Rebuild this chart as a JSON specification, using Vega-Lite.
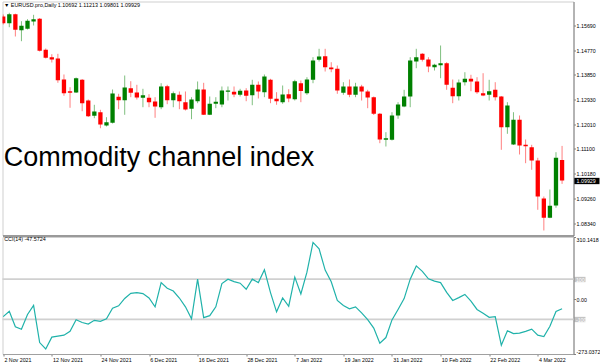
{
  "$schema": "https://vega.github.io/schema/vega-lite/v6.json",
  "padding": {"left": 0.5, "top": 0.5, "right": 0, "bottom": 0},
  "background": "#ffffff",
  "bounds": "flush",
  "spacing": 1.5,
  "config": {
    "font": "Liberation Sans",
    "view": {"stroke": "#cfcfcf", "strokeWidth": 1},
    "axis": {"labelFont": "Liberation Sans", "labelFontSize": 5.3, "labelColor": "#000000", "grid": false, "title": null, "labelOverlap": false, "labelSeparation": -20, "labelBound": false}
  },
  "data": {"values": [
    {"d": "2 Nov 2021", "o": 1.16024, "h": 1.16099, "l": 1.15727, "c": 1.15775, "cci": -87},
    {"d": "3 Nov 2021", "o": 1.15775, "h": 1.16162, "l": 1.15626, "c": 1.16110, "cci": -60},
    {"d": "4 Nov 2021", "o": 1.16110, "h": 1.16130, "l": 1.15281, "c": 1.15530, "cci": -137},
    {"d": "5 Nov 2021", "o": 1.15515, "h": 1.15849, "l": 1.15106, "c": 1.15678, "cci": -150},
    {"d": "8 Nov 2021", "o": 1.15567, "h": 1.15924, "l": 1.15541, "c": 1.15864, "cci": -76},
    {"d": "9 Nov 2021", "o": 1.15838, "h": 1.16087, "l": 1.15690, "c": 1.15924, "cci": -31},
    {"d": "10 Nov 2021", "o": 1.15939, "h": 1.15968, "l": 1.14723, "c": 1.14749, "cci": -216},
    {"d": "11 Nov 2021", "o": 1.14786, "h": 1.14834, "l": 1.14463, "c": 1.14489, "cci": -248},
    {"d": "12 Nov 2021", "o": 1.14511, "h": 1.14623, "l": 1.14314, "c": 1.14426, "cci": -189},
    {"d": "15 Nov 2021", "o": 1.14463, "h": 1.14637, "l": 1.13559, "c": 1.13656, "cci": -184},
    {"d": "16 Nov 2021", "o": 1.13682, "h": 1.13868, "l": 1.13076, "c": 1.13173, "cci": -179},
    {"d": "17 Nov 2021", "o": 1.13247, "h": 1.13396, "l": 1.12630, "c": 1.13188, "cci": -160},
    {"d": "18 Nov 2021", "o": 1.13199, "h": 1.13756, "l": 1.13180, "c": 1.13730, "cci": -102},
    {"d": "19 Nov 2021", "o": 1.13671, "h": 1.13700, "l": 1.12503, "c": 1.12801, "cci": -116},
    {"d": "22 Nov 2021", "o": 1.12901, "h": 1.12939, "l": 1.12288, "c": 1.12318, "cci": -124},
    {"d": "23 Nov 2021", "o": 1.12332, "h": 1.12741, "l": 1.12243, "c": 1.12492, "cci": -105},
    {"d": "24 Nov 2021", "o": 1.12466, "h": 1.12555, "l": 1.11871, "c": 1.12009, "cci": -110},
    {"d": "25 Nov 2021", "o": 1.11972, "h": 1.12280, "l": 1.11935, "c": 1.12094, "cci": -98},
    {"d": "26 Nov 2021", "o": 1.12072, "h": 1.13310, "l": 1.12046, "c": 1.13161, "cci": -45},
    {"d": "29 Nov 2021", "o": 1.13039, "h": 1.13150, "l": 1.12578, "c": 1.12912, "cci": -33},
    {"d": "30 Nov 2021", "o": 1.12912, "h": 1.13831, "l": 1.12370, "c": 1.13385, "cci": 4},
    {"d": "1 Dec 2021", "o": 1.13359, "h": 1.13619, "l": 1.13024, "c": 1.13188, "cci": 29},
    {"d": "2 Dec 2021", "o": 1.13199, "h": 1.13485, "l": 1.12938, "c": 1.13013, "cci": 33},
    {"d": "3 Dec 2021", "o": 1.13002, "h": 1.13336, "l": 1.12652, "c": 1.13098, "cci": 28},
    {"d": "6 Dec 2021", "o": 1.13002, "h": 1.13135, "l": 1.12652, "c": 1.12838, "cci": 6},
    {"d": "7 Dec 2021", "o": 1.12864, "h": 1.13024, "l": 1.12258, "c": 1.12678, "cci": -38},
    {"d": "8 Dec 2021", "o": 1.12652, "h": 1.13544, "l": 1.12578, "c": 1.13422, "cci": 83},
    {"d": "9 Dec 2021", "o": 1.13433, "h": 1.13485, "l": 1.12764, "c": 1.12912, "cci": 55},
    {"d": "10 Dec 2021", "o": 1.12912, "h": 1.13236, "l": 1.12652, "c": 1.13173, "cci": 41},
    {"d": "13 Dec 2021", "o": 1.13113, "h": 1.13236, "l": 1.12578, "c": 1.12875, "cci": 6},
    {"d": "14 Dec 2021", "o": 1.12838, "h": 1.13236, "l": 1.12529, "c": 1.12567, "cci": -38},
    {"d": "15 Dec 2021", "o": 1.12593, "h": 1.13024, "l": 1.12206, "c": 1.12938, "cci": -98},
    {"d": "16 Dec 2021", "o": 1.12875, "h": 1.13608, "l": 1.12801, "c": 1.13310, "cci": 100},
    {"d": "17 Dec 2021", "o": 1.13310, "h": 1.13559, "l": 1.12362, "c": 1.12370, "cci": -92},
    {"d": "20 Dec 2021", "o": 1.12370, "h": 1.13050, "l": 1.12359, "c": 1.12779, "cci": -82},
    {"d": "21 Dec 2021", "o": 1.12779, "h": 1.13024, "l": 1.12615, "c": 1.12853, "cci": -38},
    {"d": "22 Dec 2021", "o": 1.12753, "h": 1.13422, "l": 1.12652, "c": 1.13273, "cci": 78},
    {"d": "23 Dec 2021", "o": 1.13225, "h": 1.13422, "l": 1.12901, "c": 1.13273, "cci": 100},
    {"d": "24 Dec 2021", "o": 1.13225, "h": 1.13422, "l": 1.13024, "c": 1.13124, "cci": 88},
    {"d": "27 Dec 2021", "o": 1.13113, "h": 1.13336, "l": 1.13050, "c": 1.13262, "cci": 80},
    {"d": "28 Dec 2021", "o": 1.13273, "h": 1.13359, "l": 1.12875, "c": 1.13076, "cci": 50},
    {"d": "29 Dec 2021", "o": 1.13098, "h": 1.13671, "l": 1.12726, "c": 1.13485, "cci": 100},
    {"d": "30 Dec 2021", "o": 1.13485, "h": 1.13608, "l": 1.12976, "c": 1.13236, "cci": 83},
    {"d": "31 Dec 2021", "o": 1.13210, "h": 1.13868, "l": 1.13024, "c": 1.13793, "cci": 147},
    {"d": "3 Jan 2022", "o": 1.13671, "h": 1.13708, "l": 1.12801, "c": 1.12964, "cci": 33},
    {"d": "4 Jan 2022", "o": 1.12964, "h": 1.13210, "l": 1.12741, "c": 1.12875, "cci": -63},
    {"d": "5 Jan 2022", "o": 1.12838, "h": 1.13459, "l": 1.12779, "c": 1.13124, "cci": 6},
    {"d": "6 Jan 2022", "o": 1.13135, "h": 1.13321, "l": 1.12838, "c": 1.12976, "cci": -35},
    {"d": "7 Jan 2022", "o": 1.12950, "h": 1.13671, "l": 1.12901, "c": 1.13619, "cci": 110},
    {"d": "10 Jan 2022", "o": 1.13544, "h": 1.13645, "l": 1.12838, "c": 1.13254, "cci": 26},
    {"d": "11 Jan 2022", "o": 1.13173, "h": 1.13767, "l": 1.13113, "c": 1.13682, "cci": 135},
    {"d": "12 Jan 2022", "o": 1.13671, "h": 1.14511, "l": 1.13544, "c": 1.14388, "cci": 283},
    {"d": "13 Jan 2022", "o": 1.14414, "h": 1.14823, "l": 1.14351, "c": 1.14537, "cci": 251},
    {"d": "14 Jan 2022", "o": 1.14548, "h": 1.14823, "l": 1.13979, "c": 1.14139, "cci": 145},
    {"d": "17 Jan 2022", "o": 1.14128, "h": 1.14325, "l": 1.13953, "c": 1.14065, "cci": 87},
    {"d": "18 Jan 2022", "o": 1.14080, "h": 1.14202, "l": 1.13150, "c": 1.13273, "cci": -6},
    {"d": "19 Jan 2022", "o": 1.13188, "h": 1.13582, "l": 1.13113, "c": 1.13422, "cci": -31},
    {"d": "20 Jan 2022", "o": 1.13422, "h": 1.13682, "l": 1.13024, "c": 1.13113, "cci": -48},
    {"d": "21 Jan 2022", "o": 1.13113, "h": 1.13559, "l": 1.13024, "c": 1.13422, "cci": -38},
    {"d": "24 Jan 2022", "o": 1.13422, "h": 1.13485, "l": 1.12901, "c": 1.13236, "cci": -68},
    {"d": "25 Jan 2022", "o": 1.13236, "h": 1.13299, "l": 1.12615, "c": 1.13013, "cci": -102},
    {"d": "26 Jan 2022", "o": 1.13024, "h": 1.13050, "l": 1.12362, "c": 1.12407, "cci": -144},
    {"d": "27 Jan 2022", "o": 1.12407, "h": 1.12437, "l": 1.11314, "c": 1.11451, "cci": -219},
    {"d": "28 Jan 2022", "o": 1.11440, "h": 1.11723, "l": 1.11191, "c": 1.11500, "cci": -191},
    {"d": "31 Jan 2022", "o": 1.11440, "h": 1.12466, "l": 1.11414, "c": 1.12344, "cci": -103},
    {"d": "1 Feb 2022", "o": 1.12344, "h": 1.12838, "l": 1.12221, "c": 1.12753, "cci": -51},
    {"d": "2 Feb 2022", "o": 1.12678, "h": 1.13299, "l": 1.12652, "c": 1.13050, "cci": 3},
    {"d": "3 Feb 2022", "o": 1.13050, "h": 1.14511, "l": 1.12652, "c": 1.14388, "cci": 100},
    {"d": "4 Feb 2022", "o": 1.14351, "h": 1.14823, "l": 1.14102, "c": 1.14511, "cci": 166},
    {"d": "7 Feb 2022", "o": 1.14637, "h": 1.14660, "l": 1.14351, "c": 1.14414, "cci": 139},
    {"d": "8 Feb 2022", "o": 1.14426, "h": 1.14511, "l": 1.13953, "c": 1.14165, "cci": 102},
    {"d": "9 Feb 2022", "o": 1.14139, "h": 1.14266, "l": 1.14017, "c": 1.14229, "cci": 90},
    {"d": "10 Feb 2022", "o": 1.14214, "h": 1.14946, "l": 1.13730, "c": 1.14288, "cci": 83},
    {"d": "11 Feb 2022", "o": 1.14288, "h": 1.14325, "l": 1.13299, "c": 1.13485, "cci": 34},
    {"d": "14 Feb 2022", "o": 1.13373, "h": 1.13682, "l": 1.12801, "c": 1.13061, "cci": -6},
    {"d": "15 Feb 2022", "o": 1.13061, "h": 1.13682, "l": 1.12901, "c": 1.13570, "cci": 8},
    {"d": "16 Feb 2022", "o": 1.13582, "h": 1.13953, "l": 1.13459, "c": 1.13708, "cci": 24},
    {"d": "17 Feb 2022", "o": 1.13708, "h": 1.13857, "l": 1.13247, "c": 1.13608, "cci": -9},
    {"d": "18 Feb 2022", "o": 1.13608, "h": 1.13767, "l": 1.13150, "c": 1.13210, "cci": -51},
    {"d": "21 Feb 2022", "o": 1.13173, "h": 1.13916, "l": 1.13061, "c": 1.13087, "cci": -70},
    {"d": "22 Feb 2022", "o": 1.13113, "h": 1.13671, "l": 1.12901, "c": 1.13247, "cci": -90},
    {"d": "23 Feb 2022", "o": 1.13299, "h": 1.13582, "l": 1.12901, "c": 1.13024, "cci": -87},
    {"d": "24 Feb 2022", "o": 1.13050, "h": 1.13069, "l": 1.11068, "c": 1.11909, "cci": -229},
    {"d": "25 Feb 2022", "o": 1.11909, "h": 1.12838, "l": 1.11663, "c": 1.12715, "cci": -157},
    {"d": "28 Feb 2022", "o": 1.11265, "h": 1.12466, "l": 1.11247, "c": 1.12184, "cci": -171},
    {"d": "1 Mar 2022", "o": 1.12184, "h": 1.12344, "l": 1.10894, "c": 1.11228, "cci": -169},
    {"d": "2 Mar 2022", "o": 1.11254, "h": 1.11451, "l": 1.10570, "c": 1.11202, "cci": -160},
    {"d": "3 Mar 2022", "o": 1.11165, "h": 1.11254, "l": 1.10325, "c": 1.10671, "cci": -149},
    {"d": "4 Mar 2022", "o": 1.10671, "h": 1.10771, "l": 1.08838, "c": 1.09332, "cci": -179},
    {"d": "7 Mar 2022", "o": 1.09258, "h": 1.09332, "l": 1.08068, "c": 1.08540, "cci": -186},
    {"d": "8 Mar 2022", "o": 1.08540, "h": 1.09592, "l": 1.08525, "c": 1.08986, "cci": -135},
    {"d": "9 Mar 2022", "o": 1.08998, "h": 1.10979, "l": 1.08912, "c": 1.10771, "cci": -61},
    {"d": "10 Mar 2022", "o": 1.10692, "h": 1.11213, "l": 1.09801, "c": 1.09929, "cci": -47.5724}
  ]},
  "vconcat": [
    {
      "width": 571,
      "height": 234,
      "title": {"text": "▼ EURUSD.pro,Daily 1.10692 1.11213 1.09801 1.09929", "anchor": "start", "orient": "top", "frame": "group", "offset": -7, "dx": 1.5, "fontSize": 5.4, "fontWeight": "normal", "font": "Liberation Sans", "color": "#000000"},
      "layer": [
        {
          "mark": {"type": "rule", "strokeWidth": 1, "opacity": 0.5, "clip": true},
          "encoding": {
            "x": {"field": "d", "type": "ordinal", "sort": null, "scale": {"type": "point", "padding": 1.114, "align": 0.059, "round": false},
              "axis": {"orient": "bottom", "labels": false, "ticks": false, "domain": true, "domainColor": "#808080", "domainWidth": 1.3}},
            "y": {"field": "l", "type": "quantitative", "scale": {"domain": [1.07882, 1.16582], "nice": false, "zero": false},
              "axis": {"orient": "right", "values": [1.0834, 1.0926, 1.1018, 1.111, 1.1201, 1.1293, 1.1385, 1.1477, 1.1569, 1.09929], "tickCount": 100, "format": ".5f",
                "labelOverlap": false, "labelSeparation": -20, "domainColor": "#808080",
                "labelPadding": {"condition": {"test": "datum.value == 1.09929", "value": -22.9}, "value": 0.6},
                "tickSize": {"condition": {"test": "datum.value == 1.09929", "value": 25.5}, "value": 2},
                "tickWidth": {"condition": {"test": "datum.value == 1.09929", "value": 6.3}, "value": 1},
                "tickColor": {"condition": {"test": "datum.value == 1.09929", "value": "#000000"}, "value": "#808080"},
                "labelColor": {"condition": {"test": "datum.value == 1.09929", "value": "#ffffff"}, "value": "#000000"}}},
            "y2": {"field": "h"},
            "color": {"condition": {"test": "datum.c < datum.o", "value": "#ff0000"}, "value": "#008000"}
          }
        },
        {
          "mark": {"type": "bar", "width": 4.3, "clip": true},
          "encoding": {
            "x": {"field": "d", "type": "ordinal", "sort": null},
            "y": {"field": "o", "type": "quantitative"},
            "y2": {"field": "c"},
            "color": {"condition": {"test": "datum.c < datum.o", "value": "#ff0000"}, "value": "#008000"}
          }
        },
        {
          "transform": [{"filter": "datum.d == '2 Nov 2021'"}],
          "mark": {"type": "text", "fontSize": 27, "align": "left", "baseline": "middle", "font": "Liberation Sans", "color": "#000000", "dx": 0.5},
          "encoding": {
            "x": {"field": "d", "type": "ordinal", "sort": null},
            "y": {"datum": 1.10745},
            "text": {"value": "Commodity channel index"}
          }
        }
      ]
    },
    {
      "width": 571,
      "height": 117,
      "title": {"text": "CCI(14) -47.5724", "anchor": "start", "orient": "top", "frame": "group", "offset": -6, "dx": 1.7, "fontSize": 5.4, "fontWeight": "normal", "font": "Liberation Sans", "color": "#000000"},
      "layer": [
        {
          "data": {"values": [{"lv": 100}, {"lv": -100}]},
          "mark": {"type": "rule", "color": "#d0d0d0", "strokeWidth": 1.8},
          "encoding": {
            "y": {"field": "lv", "type": "quantitative", "scale": {"domain": [-273.0372, 310.1418], "nice": false, "zero": false},
              "axis": {"orient": "right", "values": [310.1418, 100, 0, -100, -273.0372], "tickCount": 100,
                "labelExpr": "datum.value == 0 ? '0.00' : '' + datum.value",
                "labelOverlap": false, "labelSeparation": -20, "labelFlush": true, "domainColor": "#808080",
                "labelPadding": {"condition": {"test": "abs(datum.value) == 100", "value": -9.6}, "value": 0.6},
                "tickSize": {"condition": {"test": "abs(datum.value) == 100", "value": 11.5}, "value": 2},
                "tickWidth": {"condition": {"test": "abs(datum.value) == 100", "value": 5.3}, "value": 1},
                "tickColor": {"condition": {"test": "abs(datum.value) == 100", "value": "#c4c4c4"}, "value": "#808080"},
                "labelColor": {"condition": {"test": "abs(datum.value) == 100", "value": "#ffffff"}, "value": "#000000"}}}
          }
        },
        {
          "mark": {"type": "line", "color": "#20b2aa", "strokeWidth": 1.2, "clip": true},
          "encoding": {
            "x": {"field": "d", "type": "ordinal", "sort": null, "scale": {"type": "point", "padding": 1.114, "align": 0.059, "round": false},
              "axis": {"orient": "bottom", "values": ["2 Nov 2021", "12 Nov 2021", "24 Nov 2021", "6 Dec 2021", "16 Dec 2021", "28 Dec 2021", "7 Jan 2022", "19 Jan 2022", "31 Jan 2022", "10 Feb 2022", "22 Feb 2022", "4 Mar 2022"],
                "labelAlign": "left", "labelAngle": 0, "labelOffset": 0.7, "labelPadding": 1, "labelBaseline": "top", "tickSize": 2, "tickColor": "#808080", "domainColor": "#a0a0a0"}},
            "y": {"field": "cci", "type": "quantitative"}
          }
        }
      ]
    }
  ]
}
